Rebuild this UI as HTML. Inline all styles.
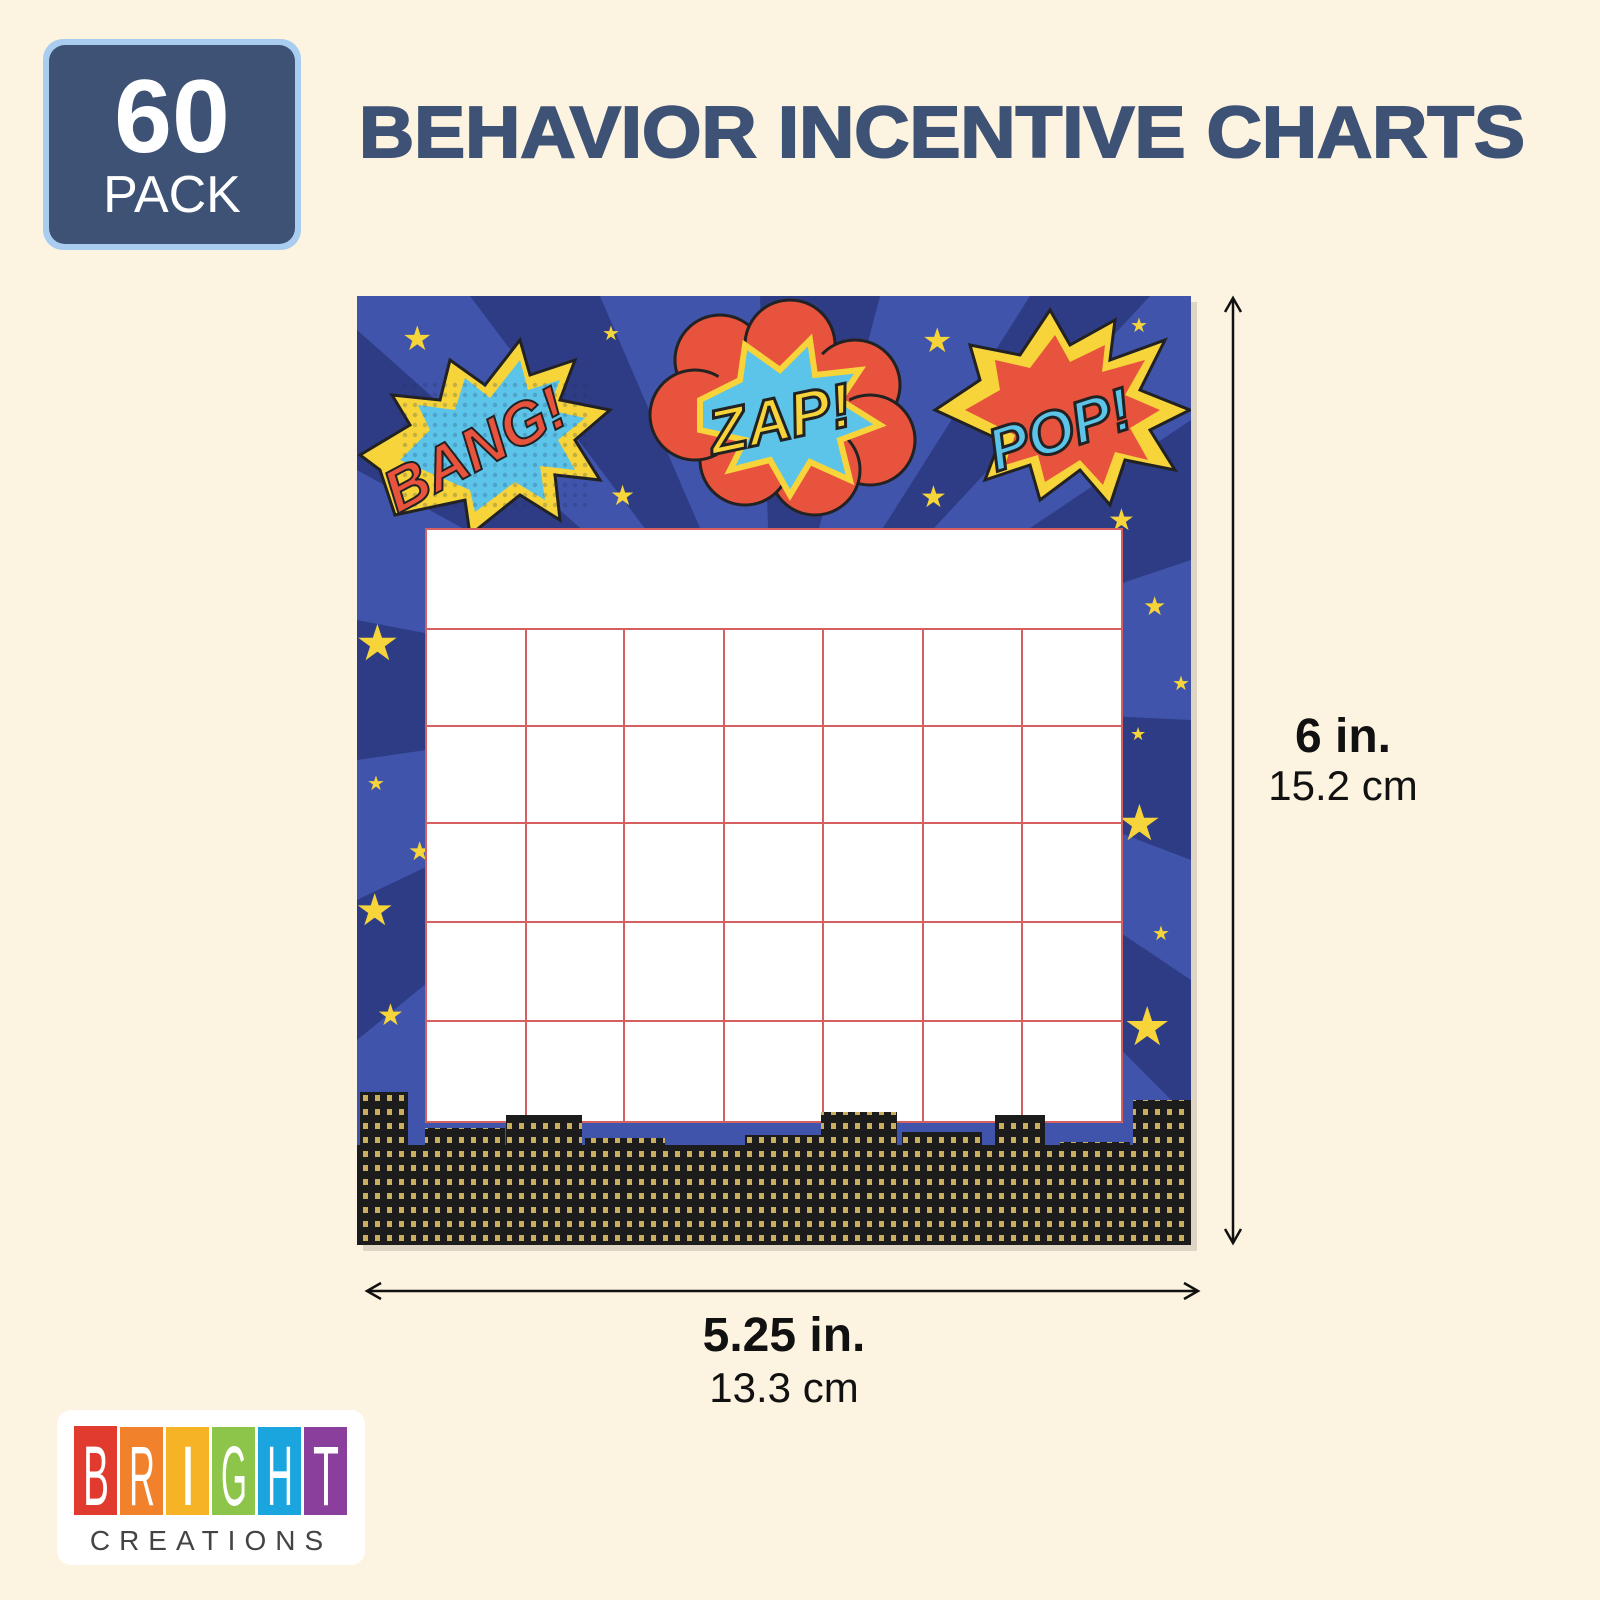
<!DOCTYPE html>
<html><head><meta charset="utf-8"><style>
html,body{margin:0;padding:0}
body{width:1600px;height:1600px;background:#fdf3e1;position:relative;overflow:hidden;font-family:"Liberation Sans",sans-serif}
</style></head><body>
<svg width="1600" height="1600" viewBox="0 0 1600 1600" style="position:absolute;left:0;top:0">
<defs>
<clipPath id="card"><rect x="357" y="296" width="834" height="949"/></clipPath>
<clipPath id="bld">
<rect x="357" y="1145" width="834" height="100"/>
<rect x="360" y="1092" width="48" height="60"/><rect x="425" y="1128" width="80" height="20"/>
<rect x="506" y="1115" width="76" height="35"/><rect x="585" y="1138" width="80" height="10"/>
<rect x="676" y="1148" width="60" height="10"/><rect x="745" y="1135" width="80" height="15"/>
<rect x="821" y="1112" width="76" height="35"/><rect x="902" y="1132" width="80" height="15"/>
<rect x="995" y="1115" width="50" height="35"/><rect x="1060" y="1142" width="70" height="10"/>
<rect x="1133" y="1100" width="58" height="50"/>
</clipPath>
<pattern id="dots" width="10" height="10" patternUnits="userSpaceOnUse"><circle cx="5" cy="5" r="2.2" fill="#1d2a5a" opacity="0.45"/></pattern>
<pattern id="win" width="12" height="14" patternUnits="userSpaceOnUse"><rect x="3" y="3" width="5" height="6" fill="#e8c86a"/></pattern>
</defs>
<rect x="43" y="39" width="258" height="211" rx="20" fill="#a8cdf0"/>
<rect x="49" y="45" width="246" height="199" rx="16" fill="#3d5275"/>
<text x="172" y="152" text-anchor="middle" font-size="104" font-weight="bold" fill="#fff">60</text>
<text x="172" y="212" text-anchor="middle" font-size="52" fill="#fff">PACK</text>
<text x="942" y="157" text-anchor="middle" font-size="72" font-weight="bold" fill="#3d5275" stroke="#3d5275" stroke-width="2" textLength="1166" lengthAdjust="spacingAndGlyphs">BEHAVIOR INCENTIVE CHARTS</text>
<rect x="363" y="302" width="834" height="949" fill="#000" opacity="0.12"/>
<g clip-path="url(#card)">
<rect x="357" y="296" width="834" height="949" fill="#3f54aa"/>
<g fill="#2e3c85">
<polygon points="774,700 357,330 357,470"/>
<polygon points="774,700 357,620 357,760"/>
<polygon points="774,700 357,900 357,1040"/>
<polygon points="774,700 470,296 600,296"/>
<polygon points="774,700 760,296 880,296"/>
<polygon points="774,700 1030,296 1150,296"/>
<polygon points="774,700 1191,420 1191,560"/>
<polygon points="774,700 1191,720 1191,860"/>
<polygon points="774,700 1191,980 1191,1120"/>
</g>
<polygon points="380,470 360,455 410,425 392,395 440,400 450,360 485,385 520,340 530,375 575,360 560,400 610,410 575,440 600,480 555,475 560,520 520,495 470,535 465,500 395,515" fill="#f6d43a" stroke="#222" stroke-width="3"/>
<polygon points="400,460 430,430 418,405 455,410 465,378 490,398 520,360 528,390 560,380 548,410 585,418 558,440 575,470 540,466 545,500 515,482 475,512 470,490" fill="#5cc4e8"/>
<rect x="400" y="380" width="190" height="130" fill="url(#dots)" opacity="0.5"/>
<text x="475" y="470" font-size="60" font-weight="bold" font-style="italic" fill="#e8533e" stroke="#222" stroke-width="2" transform="rotate(-28 475 450)" text-anchor="middle">BANG!</text>
<g fill="#e8533e" stroke="#222" stroke-width="3">
<circle cx="720" cy="360" r="45"/><circle cx="790" cy="345" r="45"/><circle cx="855" cy="385" r="45"/><circle cx="870" cy="440" r="45"/><circle cx="815" cy="470" r="45"/><circle cx="745" cy="460" r="45"/><circle cx="695" cy="415" r="45"/>
</g>
<g fill="#e8533e"><circle cx="780" cy="410" r="70"/></g>
<polygon points="700,400 740,380 745,345 780,370 810,340 815,375 860,370 840,400 880,425 840,440 850,480 810,462 790,495 770,460 730,470 745,440 700,430" fill="#5cc4e8" stroke="#f6d43a" stroke-width="6"/>
<text x="780" y="440" font-size="62" font-weight="bold" font-style="italic" fill="#f6d43a" stroke="#222" stroke-width="3" text-anchor="middle" transform="rotate(-12 780 420)">ZAP!</text>
<polygon points="935,410 980,380 970,345 1020,355 1050,310 1070,345 1115,320 1110,360 1165,340 1140,390 1190,410 1150,430 1175,470 1125,460 1110,505 1080,470 1040,500 1030,465 985,480 1000,440" fill="#f6d43a" stroke="#222" stroke-width="3"/>
<polygon points="965,410 1000,390 995,360 1030,368 1055,335 1070,362 1105,345 1102,372 1145,360 1125,395 1160,410 1130,428 1148,460 1115,452 1103,485 1080,460 1045,482 1038,455 1005,465 1015,435" fill="#e8533e"/>
<text x="1060" y="450" font-size="60" font-weight="bold" font-style="italic" fill="#5cc4e8" stroke="#222" stroke-width="3" text-anchor="middle" transform="rotate(-18 1060 430)">POP!</text>
<g fill="#f6d43a" font-size="34">
<text x="402" y="350">★</text><text x="602" y="340" font-size="20">★</text><text x="922" y="352">★</text><text x="1130" y="332" font-size="20">★</text>
<text x="610" y="505" font-size="28">★</text><text x="920" y="507" font-size="30">★</text>
<text x="355" y="660" font-size="50">★</text><text x="1143" y="615" font-size="26">★</text><text x="1172" y="690" font-size="20">★</text>
<text x="1130" y="740" font-size="18">★</text><text x="367" y="790" font-size="20">★</text><text x="408" y="860" font-size="26">★</text>
<text x="1117" y="840" font-size="50">★</text><text x="355" y="925" font-size="44">★</text><text x="1152" y="940" font-size="20">★</text>
<text x="1123" y="1045" font-size="54">★</text><text x="377" y="1025" font-size="30">★</text><text x="1108" y="530" font-size="30">★</text>
</g>
<rect x="426" y="529" width="696" height="593" fill="#fff" stroke="#d46060" stroke-width="2"/>
<g stroke="#d46060" stroke-width="2">
<line x1="426" y1="629" x2="1122" y2="629"/><line x1="426" y1="726" x2="1122" y2="726"/><line x1="426" y1="823" x2="1122" y2="823"/><line x1="426" y1="922" x2="1122" y2="922"/><line x1="426" y1="1021" x2="1122" y2="1021"/>
<line x1="526" y1="629" x2="526" y2="1122"/><line x1="624" y1="629" x2="624" y2="1122"/><line x1="724" y1="629" x2="724" y2="1122"/><line x1="823" y1="629" x2="823" y2="1122"/><line x1="923" y1="629" x2="923" y2="1122"/><line x1="1022" y1="629" x2="1022" y2="1122"/>
</g>
<g clip-path="url(#bld)">
<rect x="357" y="1090" width="834" height="155" fill="#1c1c1c"/>
<rect x="357" y="1090" width="834" height="155" fill="url(#win)" opacity="0.85"/>
</g>
</g>
<g stroke="#111" stroke-width="2.5" fill="none">
<line x1="1233" y1="300" x2="1233" y2="1241"/>
<polyline points="1225,312 1233,298 1241,312"/><polyline points="1225,1229 1233,1243 1241,1229"/>
<line x1="369" y1="1291" x2="1196" y2="1291"/>
<polyline points="381,1283 367,1291 381,1299"/><polyline points="1184,1283 1198,1291 1184,1299"/>
</g>
<text x="1343" y="752" text-anchor="middle" font-size="48" font-weight="bold" fill="#111">6 in.</text>
<text x="1343" y="800" text-anchor="middle" font-size="42" fill="#111">15.2 cm</text>
<text x="784" y="1351" text-anchor="middle" font-size="48" font-weight="bold" fill="#111">5.25 in.</text>
<text x="784" y="1402" text-anchor="middle" font-size="42" fill="#111">13.3 cm</text>
<rect x="57" y="1410" width="308" height="155" rx="14" fill="#fff"/>
<g font-size="84" fill="#fff" text-anchor="middle" font-family="Liberation Sans Narrow, Liberation Sans, sans-serif">
<rect x="74" y="1426" width="43" height="89" fill="#e03b2e"/><text x="96" y="1505" textLength="26" lengthAdjust="spacingAndGlyphs">B</text>
<rect x="120" y="1427" width="43" height="88" fill="#f1812b"/><text x="142" y="1505" textLength="26" lengthAdjust="spacingAndGlyphs">R</text>
<rect x="166" y="1427" width="43" height="88" fill="#f6b325"/><text x="188" y="1505" textLength="16" lengthAdjust="spacingAndGlyphs">I</text>
<rect x="212" y="1427" width="43" height="88" fill="#8cc54a"/><text x="234" y="1505" textLength="26" lengthAdjust="spacingAndGlyphs">G</text>
<rect x="258" y="1427" width="43" height="88" fill="#1aa5df"/><text x="280" y="1505" textLength="26" lengthAdjust="spacingAndGlyphs">H</text>
<rect x="304" y="1427" width="43" height="88" fill="#8a3f9c"/><text x="326" y="1505" textLength="26" lengthAdjust="spacingAndGlyphs">T</text>
</g>
<text x="211" y="1550" text-anchor="middle" font-size="28" fill="#444" letter-spacing="9">CREATIONS</text>
</svg>
</body></html>
